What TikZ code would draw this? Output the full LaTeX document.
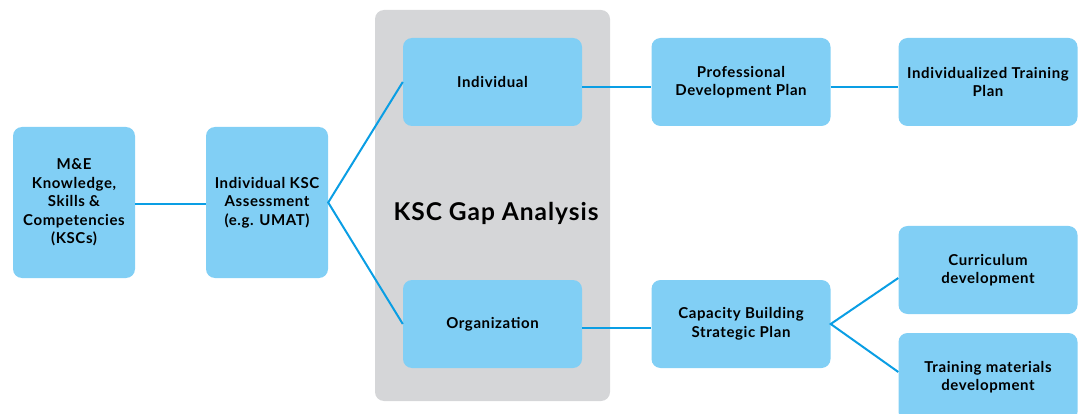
\documentclass[tikz,border=0pt]{standalone}
\usepackage{fontspec}
\setmainfont{Lato}[LetterSpace=4]
\definecolor{boxblue}{RGB}{129,207,245}
\definecolor{lineblue}{RGB}{10,158,228}
\definecolor{panelgray}{RGB}{213,214,216}
\begin{document}
\begin{tikzpicture}[x=1pt,y=-1pt,
	box/.style={rectangle,rounded corners=9pt,fill=boxblue,align=center,inner sep=0pt,
		font=\bfseries\fontsize{15}{18.5}\selectfont},
	tall/.style={box,minimum width=122pt,minimum height=151pt},
	wide/.style={box,minimum width=179pt,minimum height=88pt},
	link/.style={lineblue,line width=2pt}]
\clip (0,0) rectangle (1084,414);
\node[fill=panelgray,rounded corners=9pt,minimum width=235pt,minimum height=391pt] (gap) at (492.5,205.5) {};
\node[font=\bfseries\fontsize{24.5}{28}\selectfont] (gaplabel) at (496,213) {KSC Gap Analysis};

\node[tall] (mek) at (74,202.5) {M\&E\\Knowledge,\\Skills \&\\Competencies\\(KSCs)};
\node[tall] (assess) at (267,202.5) {Individual KSC\\Assessment\\(e.g. UMAT)};
\node[wide] (indiv) at (492.5,82) {Individual};
\node[wide] (org) at (492.5,324) {Organization};
\node[wide] (pdp) at (741,82) {Professional\\Development Plan};
\node[wide] (itp) at (988,82) {Individualized Training\\Plan};
\node[wide] (cbsp) at (741,324) {Capacity Building\\Strategic Plan};
\node[wide] (curr) at (988,270) {Curriculum\\development};
\node[wide] (mat) at (988,377) {Training materials\\development};

\draw[link] ([yshift=-2pt]mek.east) -- ([yshift=-2pt]assess.west);
\draw[link] (indiv.west) -- (assess.east) -- (org.west);
\draw[link] ([yshift=-5pt]indiv.east) -- ([yshift=-5pt]pdp.west);
\draw[link] ([yshift=-5pt]pdp.east) -- ([yshift=-5pt]itp.west);
\draw[link] ([yshift=-4pt]org.east) -- ([yshift=-4pt]cbsp.west);
\draw[link] ([yshift=-8pt]curr.west) -- (cbsp.east) -- ([yshift=5pt]mat.west);
\end{tikzpicture}
\end{document}
